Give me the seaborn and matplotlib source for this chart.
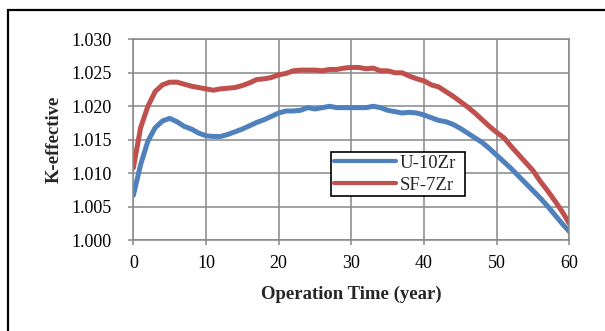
import numpy as np
import pandas as pd
import matplotlib
matplotlib.use("Agg")
import matplotlib.pyplot as plt
import seaborn as sns
from matplotlib.patches import Rectangle

years = list(range(0, 61))
u10zr = [1.0067, 1.0113, 1.0148, 1.0168, 1.0178, 1.0182, 1.0177, 1.0170, 1.0166, 1.0160,
         1.0156, 1.0155, 1.0155, 1.0158, 1.0162, 1.0166, 1.0171, 1.0176, 1.0180, 1.0185,
         1.0190, 1.0193, 1.0193, 1.0194, 1.0198, 1.0196, 1.0198, 1.0200, 1.0198, 1.0198,
         1.0198, 1.0198, 1.0198, 1.0200, 1.0198, 1.0194, 1.0192, 1.0190, 1.0191, 1.0190,
         1.0187, 1.0183, 1.0179, 1.0177, 1.0173, 1.0167, 1.0160, 1.0153, 1.0146, 1.0137,
         1.0127, 1.0117, 1.0107, 1.0096, 1.0085, 1.0074, 1.0063, 1.0051, 1.0038, 1.0025,
         1.0013]
sf7zr = [1.0108, 1.0168, 1.0200, 1.0222, 1.0232, 1.0236, 1.0236, 1.0233, 1.0230, 1.0228,
         1.0226, 1.0224, 1.0226, 1.0227, 1.0228, 1.0231, 1.0235, 1.0240, 1.0241, 1.0243,
         1.0247, 1.0249, 1.0253, 1.0254, 1.0254, 1.0254, 1.0253, 1.0255, 1.0255, 1.0257,
         1.0258, 1.0258, 1.0256, 1.0257, 1.0253, 1.0253, 1.0250, 1.0250, 1.0245, 1.0241,
         1.0238, 1.0232, 1.0229, 1.0222, 1.0215, 1.0207, 1.0199, 1.0190, 1.0180, 1.0170,
         1.0161, 1.0153, 1.0140, 1.0128, 1.0116, 1.0104, 1.0088, 1.0074, 1.0059, 1.0043,
         1.0025]
series_names = ["U-10Zr", "SF-7Zr"]
colors = ["#4F81BD", "#C0504D"]
x_ticks = [0, 10, 20, 30, 40, 50, 60]
y_ticks = [1.000, 1.005, 1.010, 1.015, 1.020, 1.025, 1.030]

df = pd.DataFrame({
    "year": years * 2,
    "k": u10zr + sf7zr,
    "fuel": [series_names[0]] * len(years) + [series_names[1]] * len(years),
})

sns.set_theme(style="white")
plt.rcParams["font.family"] = ["Liberation Serif", "DejaVu Serif"]

fig = plt.figure(figsize=(6.05, 3.31), dpi=100)
ax = fig.add_axes([0.2204, 0.274, 0.7207, 0.6073])

sns.lineplot(data=df, x="year", y="k", hue="fuel", palette=colors,
             hue_order=series_names, linewidth=3.6, ax=ax, legend=True)

ax.set_xlim(0, 60)
ax.set_ylim(1.000, 1.030)
ax.set_xticks(x_ticks)
ax.set_yticks(y_ticks)
ax.set_xticklabels([str(v) for v in x_ticks], fontsize=13)
ax.set_yticklabels([f"{v:.3f}" for v in y_ticks], fontsize=13)
ax.grid(True, color="#888888", linewidth=1.1)
ax.set_axisbelow(True)
for s in ax.spines.values():
    s.set_color("#888888")
    s.set_linewidth(1.1)
ax.tick_params(axis="both", direction="out", length=3.6, width=1.1,
               color="#888888", colors="black")
ax.tick_params(axis="y", pad=12)
ax.tick_params(axis="x", pad=7)
ax.tick_params(axis="both", which="both", bottom=True, left=True)

ax.set_xlabel("Operation Time (year)", fontsize=13.5, fontweight="bold", labelpad=10)
ax.set_ylabel("K-effective", fontsize=13.5, fontweight="bold", labelpad=6)

leg = ax.legend(loc="lower left", bbox_to_anchor=(0.453, 0.218, 0.308, 0.23),
                mode="expand", frameon=True, fancybox=False, fontsize=13.5,
                handlelength=3.35, borderaxespad=0, handletextpad=0.15,
                borderpad=0.15, labelspacing=0.26)
leg.get_frame().set_edgecolor("black")
leg.get_frame().set_linewidth(1.2)
leg.get_frame().set_facecolor("white")
leg.get_frame().set_alpha(1)
for line in leg.get_lines():
    line.set_linewidth(3.0)

fig.patches.append(Rectangle((8 / 605, -0.1), 1.2, 0.1 + 1 - 10 / 331,
                             transform=fig.transFigure, fill=False,
                             edgecolor="black", linewidth=1.6))

fig.savefig("out.png", dpi=100, facecolor="white")
